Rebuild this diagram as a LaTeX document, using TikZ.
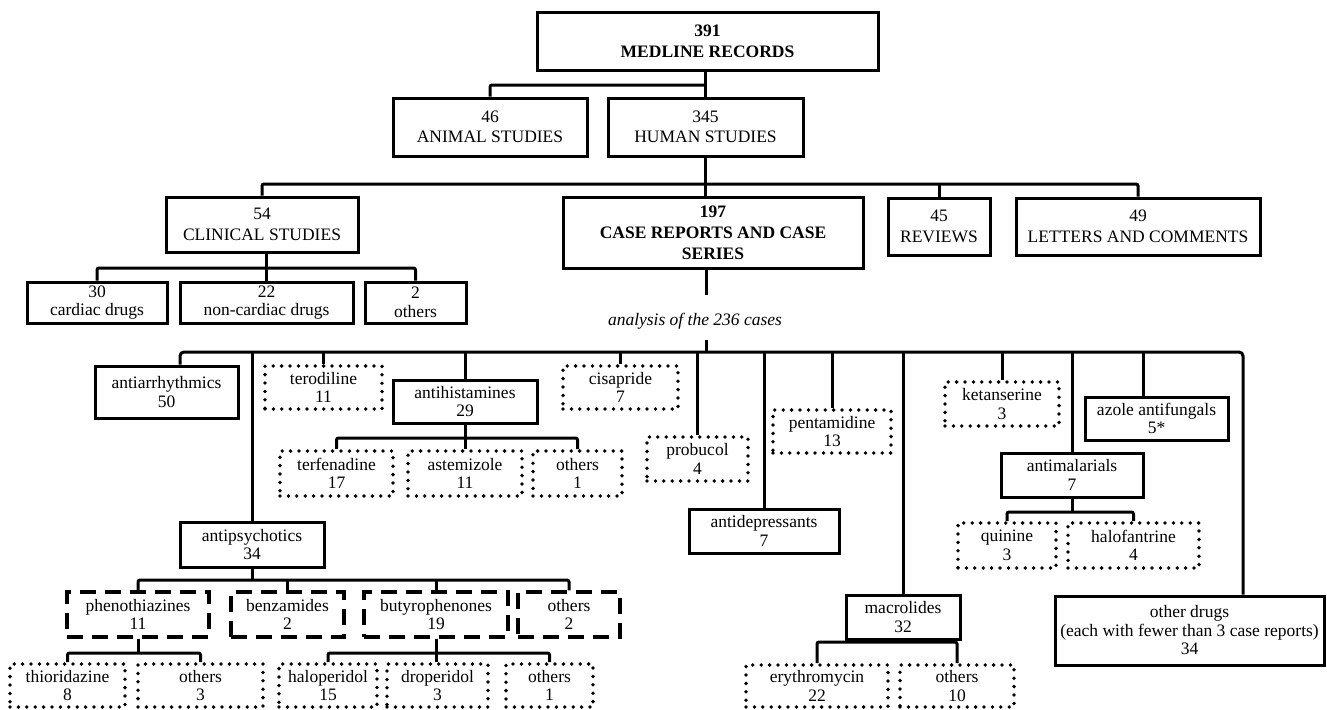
\documentclass[tikz,border=0pt]{standalone}
\usepackage{fontspec}
\setmainfont{Liberation Serif}
\begin{document}
\begin{tikzpicture}[x=1pt,y=-1pt,
  base/.style={inner sep=0pt, align=center, font=\fontsize{17.5}{18.5}\selectfont},
  rect/.style n args={4}{minimum width={(#3-#1)*1pt}, minimum height={(#4-#2)*1pt}, at={({(#1+#3)/2},{(#2+#4)/2})}},
  sbox/.style={base, draw, line width=3pt},
  bigbox/.style={sbox, font=\fontsize{17.5}{20.5}\selectfont},
  boldbox/.style={sbox, font=\bfseries\fontsize{17.5}{21}\selectfont},
  dotbox/.style={base, draw, line width=3.8pt, line cap=round, dash pattern=on 0pt off 8.4pt},
  dashbox/.style={base, draw, line width=3.2pt, dash pattern=on 16pt off 9pt},
  conn/.style={line width=3pt, rounded corners=2pt}]
\useasboundingbox (0,0) rectangle (1327,709);

% level 0-2
\node[boldbox, rect={537}{13}{878}{70}] (medline) {391\\MEDLINE RECORDS};
\node[bigbox, rect={393}{98}{587}{156}] (animal) {46\\ANIMAL STUDIES};
\node[bigbox, rect={608}{98}{803}{156}] (human) {345\\HUMAN STUDIES};
\node[bigbox, rect={166}{197}{358}{252}] (clinical) {54\\CLINICAL STUDIES};
\node[boldbox, rect={563}{197}{863}{268}] (case) {197\\CASE REPORTS AND CASE\\SERIES};
\node[bigbox, rect={888}{198}{990}{255}] (reviews) {45\\REVIEWS};
\node[bigbox, rect={1016}{198}{1260}{255}] (letters) {49\\LETTERS AND COMMENTS};
\node[sbox, rect={27}{282}{167}{323}] (cardiac) {30\\cardiac drugs};
\node[sbox, rect={180}{282}{353}{323}] (noncard) {22\\non-cardiac drugs};
\node[sbox, rect={365}{282}{466}{323}] (othA) {2\\others};

\node[base, font=\itshape\fontsize{17.5}{18.5}\selectfont] (ana) at (695,321) {analysis of the 236 cases};

% drug classes
\node[sbox, rect={95}{366}{238}{418}] (aa) {antiarrhythmics\\50};
\node[dotbox, rect={265}{366}{382}{409}] (tero) {terodiline\\11};
\node[sbox, rect={393}{380}{537}{423}] (antih) {antihistamines\\29};
\node[dotbox, rect={563}{366}{678}{409}] (cisa) {cisapride\\7};
\node[dotbox, rect={647}{437}{748}{481}] (prob) {probucol\\4};
\node[sbox, rect={689}{509}{839}{553}] (antid) {antidepressants\\7};
\node[dotbox, rect={773}{410}{891}{453}] (penta) {pentamidine\\13};
\node[sbox, rect={846}{595}{960}{639}] (macro) {macrolides\\32};
\node[dotbox, rect={945}{382}{1059}{426}] (ketan) {ketanserine\\3};
\node[sbox, rect={1001}{453}{1143}{497}] (antim) {antimalarials\\7};
\node[sbox, rect={1085}{397}{1228}{440}] (azole) {azole antifungals\\5*};
\node[sbox, rect={1055}{596}{1324}{665}] (od) {other drugs\\(each with fewer than 3 case reports)\\34};
\node[sbox, rect={180}{522}{324}{567}] (ap) {antipsychotics\\34};

% antihistamine children
\node[dotbox, rect={280}{451}{393}{496}] (terf) {terfenadine\\17};
\node[dotbox, rect={408}{451}{522}{496}] (ast) {astemizole\\11};
\node[dotbox, rect={533}{451}{622}{496}] (othB) {others\\1};

% antipsychotic children
\node[dashbox, rect={67}{592}{209}{637}] (pheno) {phenothiazines\\11};
\node[dashbox, rect={231}{592}{344}{637}] (benz) {benzamides\\2};
\node[dashbox, rect={364}{592}{508}{637}] (buty) {butyrophenones\\19};
\node[dashbox, rect={518}{592}{620}{637}] (othC) {others\\2};

\node[dotbox, rect={10}{664}{125}{707}] (thio) {thioridazine\\8};
\node[dotbox, rect={138}{664}{263}{707}] (othD) {others\\3};
\node[dotbox, rect={279}{664}{377}{707}] (halo) {haloperidol\\15};
\node[dotbox, rect={387}{664}{488}{707}] (drop) {droperidol\\3};
\node[dotbox, rect={506}{664}{593}{707}] (othE) {others\\1};

% macrolide children
\node[dotbox, rect={746}{665}{888}{707}] (eryth) {erythromycin\\22};
\node[dotbox, rect={900}{665}{1014}{707}] (othF) {others\\10};

% antimalarial children
\node[dotbox, rect={958}{523}{1056}{568}] (quin) {quinine\\3};
\node[dotbox, rect={1068}{523}{1199}{568}] (halof) {halofantrine\\4};

% bar levels
\coordinate (y1) at (0,85);
\coordinate (y2) at (0,184);
\coordinate (y3) at (0,268);
\coordinate (y4) at (0,352);
\coordinate (y5) at (0,438);
\coordinate (y6) at (0,580);
\coordinate (y7) at (0,653);
\coordinate (y8) at (0,642);
\coordinate (y9) at (0,512);
\coordinate (a1) at (706,295);
\coordinate (a2) at (706,340);
\coordinate (aaX) at (180,0);
\coordinate (odX) at (1243,0);
\coordinate (azX) at (1143,0);

% connectors
\draw[conn] (human.north) -- (human.north |- medline.south);
\draw[conn] (animal.north) |- (human.north |- y1);
\draw[conn] (human.south) -- (human.south |- case.north);
\draw[conn] (clinical.north) -- (clinical.north |- y2) -- (letters.north |- y2) -- (letters.north);
\draw[conn] (reviews.north) -- (reviews.north |- y2);
\draw[conn] (noncard.north) -- (noncard.north |- clinical.south);
\draw[conn] (cardiac.north) -- (cardiac.north |- y3) -- (othA.north |- y3) -- (othA.north);
\draw[conn] (case.south -| a1) -- (a1);
\draw[conn] (a2) -- (a2 |- y4);
\draw[conn, rounded corners=4pt] (aa.north -| aaX) -- (aaX |- y4) -- (odX |- y4) -- (od.north -| odX);
\foreach \c in {ap,tero,antih,cisa,prob,antid,penta,macro,ketan,antim}
  \draw[conn] (\c.north) -- (\c.north |- y4);
\draw[conn] (azole.north -| azX) -- (azX |- y4);
\draw[conn] (antih.south) -- (antih.south |- ast.north);
\draw[conn] (terf.north) -- (terf.north |- y5) -- (othB.north |- y5) -- (othB.north);
\draw[conn] (ap.south) -- (ap.south |- y6);
\draw[conn] (pheno.north) -- (pheno.north |- y6) -- (othC.north |- y6) -- (othC.north);
\draw[conn] (benz.north) -- (benz.north |- y6);
\draw[conn] (buty.north) -- (buty.north |- y6);
\draw[conn] (pheno.south) -- (pheno.south |- y7);
\draw[conn] (thio.north) -- (thio.north |- y7) -- (othD.north |- y7) -- (othD.north);
\draw[conn] (buty.south) -- (buty.south |- drop.north);
\draw[conn] (halo.north) -- (halo.north |- y7) -- (othE.north |- y7) -- (othE.north);
\draw[conn] (macro.south) -- (macro.south |- y8);
\draw[conn] (eryth.north) -- (eryth.north |- y8) -- (othF.north |- y8) -- (othF.north);
\draw[conn] (antim.south) -- (antim.south |- y9);
\draw[conn] (quin.north) -- (quin.north |- y9) -- (halof.north |- y9) -- (halof.north);
\end{tikzpicture}
\end{document}
